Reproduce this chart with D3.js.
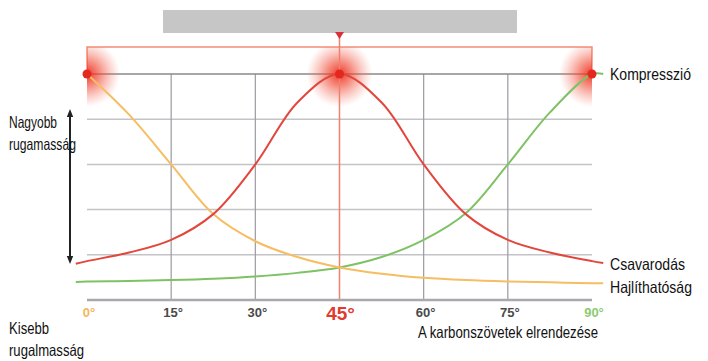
<!DOCTYPE html>
<html>
<head>
<meta charset="utf-8">
<script src="https://cdn.jsdelivr.net/npm/d3@7"></script>
<style>
  body { margin: 0; background: #fff; }
  svg { display: block; font-family: "Liberation Sans", Arial, sans-serif; }
</style>
</head>
<body>
<svg id="chart"></svg>
<script>
// data (relative stiffness, 0..5 grid rows)
var angles     = [-2, 0, 7.5, 15, 22.5, 30, 37.5, 45, 52.5, 60, 67.5, 75, 82.5, 90, 92];
var torsion    = [0.80, 0.86, 1.05, 1.33, 1.9, 3.0, 4.37, 5, 4.37, 3.0, 1.9, 1.33, 1.05, 0.86, 0.82];
var bending    = [null, 5, 4.1, 3.0, 1.9, 1.3, 0.95, 0.72, 0.58, 0.49, 0.44, 0.41, 0.39, 0.37, 0.37];
var compress   = [0.40, 0.41, 0.42, 0.44, 0.47, 0.52, 0.6, 0.72, 0.95, 1.33, 1.92, 3.0, 4.15, 5, 5];
var tickAngles = [0, 15, 30, 45, 60, 75, 90];
var tickLabels = ["0°", "15°", "30°", "45°", "60°", "75°", "90°"];
var gridRows   = [1, 2, 3, 4];
var peaks      = [0, 45, 90];

var W = 708, H = 361;
var svg = d3.select("#chart").attr("width", W).attr("height", H);

var x = d3.scaleLinear().domain([0, 90]).range([87, 592]);
var y = d3.scaleLinear().domain([0, 5]).range([300, 74]);

var defs = svg.append("defs");
var grad = defs.append("radialGradient").attr("id", "glow");
grad.append("stop").attr("offset", "0%").attr("stop-color", "#ee2a1a").attr("stop-opacity", 0.95);
grad.append("stop").attr("offset", "40%").attr("stop-color", "#f04a35").attr("stop-opacity", 0.6);
grad.append("stop").attr("offset", "100%").attr("stop-color", "#f47a66").attr("stop-opacity", 0);
defs.append("clipPath").attr("id", "box")
  .append("rect").attr("x", x(0)).attr("y", 47).attr("width", x(90) - x(0)).attr("height", 200);

// grey title bar
svg.append("rect").attr("x", 163).attr("y", 10).attr("width", 354).attr("height", 23).attr("fill", "#c6c6c6");

// orange bracket on top
svg.append("path")
  .attr("d", "M" + x(0) + "," + y(5) + "V47H" + x(90) + "V" + y(5))
  .attr("fill", "none").attr("stroke", "#f58c74").attr("stroke-width", 1.5);

// horizontal grid
svg.selectAll(".hgrid").data(gridRows).enter().append("line")
  .attr("x1", x(0)).attr("x2", x(90))
  .attr("y1", d => y(d)).attr("y2", d => y(d))
  .attr("stroke", "#c4c4c8").attr("stroke-width", 1.5);

// vertical grid
svg.selectAll(".vgrid").data([15, 30, 60, 75]).enter().append("line")
  .attr("x1", d => x(d)).attr("x2", d => x(d))
  .attr("y1", y(5)).attr("y2", y(0))
  .attr("stroke", "#9a9aa2").attr("stroke-width", 1.2);

// top line
svg.append("line").attr("x1", x(0)).attr("x2", x(90)).attr("y1", y(5)).attr("y2", y(5))
  .attr("stroke", "#8a8a8a").attr("stroke-width", 1.5);

// glows
svg.append("g").attr("clip-path", "url(#box)")
  .selectAll("circle").data(peaks).enter().append("circle")
  .attr("cx", d => x(d)).attr("cy", y(5)).attr("r", 33)
  .attr("fill", "url(#glow)");

// red 45° marker line
svg.append("line").attr("x1", x(45)).attr("x2", x(45)).attr("y1", 36).attr("y2", y(0))
  .attr("stroke", "#f08070").attr("stroke-width", 1.5);
svg.append("path")
  .attr("d", "M" + (x(45) - 4.5) + ",32L" + (x(45) + 4.5) + ",32L" + x(45) + ",39Z")
  .attr("fill", "#d8303a");

// bottom axis line
svg.append("line").attr("x1", x(0)).attr("x2", x(90)).attr("y1", y(0)).attr("y2", y(0))
  .attr("stroke", "#a8a8ae").attr("stroke-width", 2.5);

// curves
var line = d3.line()
  .defined(d => d[1] != null)
  .x(d => x(d[0])).y(d => y(d[1]))
  .curve(d3.curveCatmullRom.alpha(0.5));

var series = [
  { vals: compress, color: "#7fc265" },
  { vals: bending,  color: "#f7bd62" },
  { vals: torsion,  color: "#e2463c" }
];
svg.selectAll(".curve").data(series).enter().append("path")
  .attr("fill", "none")
  .attr("stroke", d => d.color)
  .attr("stroke-width", 2)
  .attr("d", d => line(angles.map((a, i) => [a, d.vals[i]])));

// peak dots
svg.selectAll(".dot").data(peaks).enter().append("circle")
  .attr("cx", d => x(d)).attr("cy", y(5)).attr("r", 4.5)
  .attr("fill", "#e3291f");

// x tick labels
var tickColor = { "0°": "#f7b55a", "45°": "#e33a30", "90°": "#8ccb72" };
svg.selectAll(".tick").data(tickAngles).enter().append("text")
  .attr("x", d => x(d) + (d === 45 ? 1 : 2))
  .attr("y", d => d === 45 ? 320 : 317)
  .attr("text-anchor", "middle")
  .attr("font-weight", "bold")
  .attr("font-size", d => d === 45 ? 19 : 13)
  .attr("fill", (d, i) => tickColor[tickLabels[i]] || "#4a4a4a")
  .text((d, i) => tickLabels[i]);

// axis title
svg.append("text").attr("x", 508).attr("y", 338).attr("text-anchor", "middle")
  .attr("font-size", 16.5).attr("fill", "#111")
  .attr("textLength", 180).attr("lengthAdjust", "spacingAndGlyphs")
  .text("A karbonszövetek elrendezése");

// series labels on the right
var rightLabels = [
  { text: "Kompresszió",   val: compress[compress.length - 1], dy: 0, w: 81 },
  { text: "Csavarodás",    val: torsion[torsion.length - 1],   dy: 1, w: 75 },
  { text: "Hajlíthatóság", val: bending[bending.length - 1],   dy: 4, w: 82 }
];
svg.selectAll(".rlab").data(rightLabels).enter().append("text")
  .attr("x", 610).attr("y", d => y(d.val) + d.dy + 6)
  .attr("font-size", 16.5).attr("fill", "#111")
  .attr("textLength", d => d.w).attr("lengthAdjust", "spacingAndGlyphs")
  .text(d => d.text);

// left stiffness arrow
defs.append("marker").attr("id", "ah").attr("viewBox", "0 0 10 10")
  .attr("refX", 5).attr("refY", 5).attr("markerWidth", 4).attr("markerHeight", 4)
  .attr("orient", "auto-start-reverse")
  .append("path").attr("d", "M0,1L10,5L0,9Z").attr("fill", "#222");
svg.append("line").attr("x1", 70).attr("x2", 70).attr("y1", 113).attr("y2", 260)
  .attr("stroke", "#222").attr("stroke-width", 2)
  .attr("marker-start", "url(#ah)").attr("marker-end", "url(#ah)");

var leftLabels = [
  { text: "Nagyobb", y: 128, w: 48 }, { text: "rugamasság", y: 150, w: 67 },
  { text: "Kisebb", y: 334, w: 40 }, { text: "rugalmasság", y: 356, w: 75 }
];
svg.selectAll(".llab").data(leftLabels).enter().append("text")
  .attr("x", 9).attr("y", d => d.y)
  .attr("font-size", 16.5).attr("fill", "#111")
  .attr("textLength", d => d.w).attr("lengthAdjust", "spacingAndGlyphs")
  .text(d => d.text);
</script>
</body>
</html>
